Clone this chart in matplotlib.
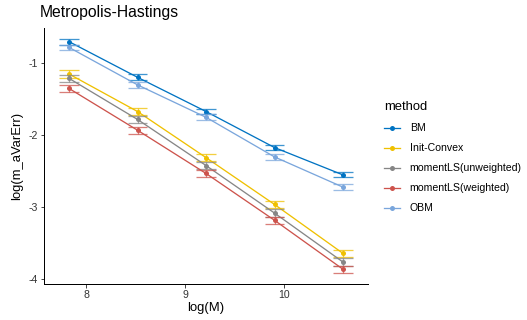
import numpy as np
import matplotlib.pyplot as plt
from matplotlib.lines import Line2D

plt.rcParams['font.family'] = ['Liberation Sans', 'DejaVu Sans']

# log(M) for M = 2500, 5000, 10000, 20000, 40000
log_m = np.log([2500, 5000, 10000, 20000, 40000])

methods = ['BM', 'Init-Convex', 'momentLS(unweighted)', 'momentLS(weighted)', 'OBM']
colors = ['#0073C2', '#EFC000', '#868686', '#CD534C', '#7AA6DC']

bm = [-0.70, -1.195, -1.67, -2.17, -2.55]
init_convex = [-1.15, -1.67, -2.31, -2.96, -3.64]
mls_unweighted = [-1.21, -1.78, -2.42, -3.08, -3.76]
mls_weighted = [-1.35, -1.93, -2.53, -3.18, -3.86]
obm = [-0.78, -1.30, -1.75, -2.30, -2.72]

bm_err = [0.04, 0.04, 0.04, 0.035, 0.035]
init_convex_err = [0.05, 0.05, 0.045, 0.045, 0.045]
mls_unweighted_err = [0.05, 0.05, 0.05, 0.05, 0.05]
mls_weighted_err = [0.05, 0.05, 0.05, 0.05, 0.05]
obm_err = [0.04, 0.04, 0.04, 0.045, 0.045]

series = [bm, init_convex, mls_unweighted, mls_weighted, obm]
errors = [bm_err, init_convex_err, mls_unweighted_err, mls_weighted_err, obm_err]

fig = plt.figure(figsize=(527 / 72, 320 / 72), dpi=72)
ax = fig.add_axes([44 / 527, 36 / 320, 324 / 527, 256 / 320])

cap = 0.1
for y, e, c in zip(series, errors, colors):
    y = np.array(y)
    e = np.array(e)
    ax.vlines(log_m, y - e, y + e, color=c, lw=1.3, alpha=0.75)
    ax.hlines(y - e, log_m - cap, log_m + cap, color=c, lw=1.3, alpha=0.75)
    ax.hlines(y + e, log_m - cap, log_m + cap, color=c, lw=1.3, alpha=0.75)
    ax.plot(log_m, y, color=c, lw=1.3)
    ax.plot(log_m, y, 'o', color=c, ms=5, mew=0)

ax.set_xlim(7.57, 10.85)
ax.set_ylim(-4.065, -0.51)
ax.set_xticks([8, 9, 10])
ax.set_yticks([-1, -2, -3, -4])
ax.set_yticklabels(['-1', '-2', '-3', '-4'])
for s in ['top', 'right']:
    ax.spines[s].set_visible(False)
for s in ['left', 'bottom']:
    ax.spines[s].set_linewidth(1.0)
ax.tick_params(length=3.5, width=0.9, color='#333333', labelsize=10.5, labelcolor='#333333', pad=3)

ax.set_xlabel('log(M)', fontsize=13, labelpad=2)
ax.set_ylabel('log(m_aVarErr)', fontsize=13, labelpad=5)
fig.text(40 / 527, 1 - 12 / 320, 'Metropolis-Hastings', fontsize=15.8, va='center', ha='left')

handles = [Line2D([0], [0], color=c, lw=1.3, marker='o', ms=5, mew=0) for c in colors]
leg = fig.legend(handles, methods, title='method', loc='upper left',
                 bbox_to_anchor=(375 / 527, 1 - 92 / 320), frameon=False,
                 fontsize=10.5, title_fontsize=13, handlelength=1.5,
                 labelspacing=0.95, handletextpad=0.9)
leg._legend_box.align = 'left'

fig.savefig('out.png', dpi=72)
